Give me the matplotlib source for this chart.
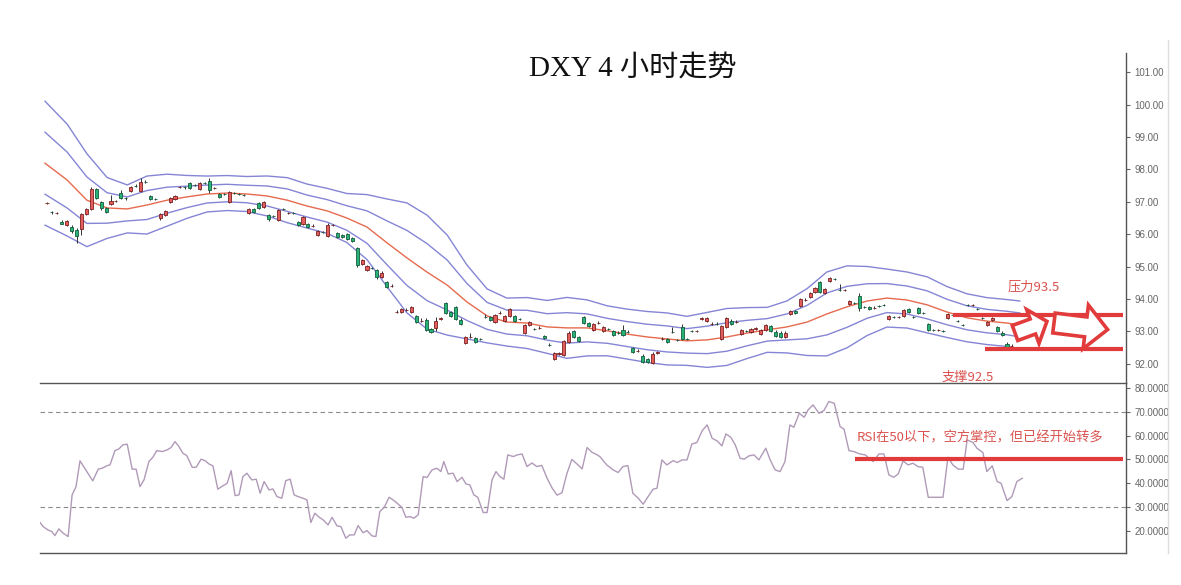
import math
import matplotlib
matplotlib.use("Agg")
import matplotlib.pyplot as plt
from matplotlib.patches import Rectangle, Polygon
from matplotlib.lines import Line2D
from matplotlib.ticker import FormatStrFormatter
from matplotlib.transforms import IdentityTransform

# ---------------- data ----------------
opens = [96.96, 96.69, 96.65, 96.38, 96.28, 96.22, 96.13, 96.16, 96.62, 96.78,
         97.39, 96.99, 96.81, 96.93, 97.02, 97.27, 97.12, 97.33, 97.49, 97.33,
         97.61, 97.18, 97.09, 96.50, 96.59, 96.99, 97.09, 97.45, 97.46, 97.58,
         97.52, 97.39, 97.58, 97.64, 97.42, 97.24, 97.24, 96.99, 97.27, 97.24,
         97.21, 96.65, 96.78, 96.96, 96.84, 96.59, 96.56, 96.44, 96.78, 96.65,
         96.65, 96.38, 96.32, 96.32, 96.25, 95.98, 96.07, 95.95, 96.28, 96.04,
         95.98, 96.01, 95.88, 95.58, 95.08, 94.90, 94.96, 94.90, 94.68, 94.53,
         94.40, 93.60, 93.60, 93.66, 93.60, 93.48, 93.32, 93.36, 93.08, 93.11,
         93.39, 93.88, 93.60, 93.76, 93.36, 92.65, 92.83, 92.80, 92.77, 93.45,
         93.45, 93.29, 93.57, 93.33, 93.48, 93.48, 93.39, 92.96, 93.20, 93.08,
         93.11, 92.86, 92.59, 92.15, 92.31, 92.28, 92.68, 93.02, 92.83, 93.45,
         93.26, 93.05, 93.26, 93.02, 93.08, 93.02, 92.96, 93.05, 92.99, 92.49,
         92.40, 92.25, 92.15, 92.03, 92.34, 92.77, 92.77, 92.99, 92.74, 93.14,
         92.77, 93.02, 93.01, 93.39, 93.33, 93.23, 93.24, 92.77, 93.14, 93.33,
         93.29, 92.92, 93.02, 92.99, 93.08, 92.92, 93.05, 93.17, 92.99, 92.96,
         92.83, 93.54, 93.63, 93.79, 93.97, 94.07, 94.22, 94.53, 94.19, 94.56,
         94.62, 94.28, 94.27, 93.85, 93.88, 94.10, 93.76, 93.76, 93.72, 93.79,
         93.82, 93.39, 93.45, 93.44, 93.48, 93.69, 93.45, 93.72, 93.57, 93.23,
         93.05, 93.04, 93.02, 93.42, 93.51, 93.32, 93.20, 93.82, 93.81, 93.69,
         93.42, 93.20, 93.36, 93.14, 92.96, 92.62, 92.55]
highs = [97.00, 96.73, 96.70, 96.45, 96.45, 96.27, 96.18, 96.66, 96.82, 97.47,
         97.43, 97.03, 96.85, 97.21, 97.07, 97.35, 97.16, 97.50, 97.55, 97.73,
         97.66, 97.22, 97.13, 96.66, 96.76, 97.15, 97.22, 97.50, 97.50, 97.62,
         97.56, 97.62, 97.62, 97.73, 97.47, 97.28, 97.28, 97.34, 97.31, 97.28,
         97.25, 96.82, 96.82, 97.00, 97.03, 96.63, 96.60, 96.79, 96.82, 96.70,
         96.69, 96.42, 96.57, 96.36, 96.30, 96.14, 96.11, 96.34, 96.33, 96.08,
         96.02, 96.05, 95.92, 95.62, 95.25, 95.06, 95.00, 94.94, 94.85, 94.57,
         94.45, 93.66, 93.73, 93.71, 93.80, 93.52, 93.40, 93.40, 93.12, 93.45,
         93.44, 93.92, 93.64, 93.80, 93.40, 92.87, 92.95, 92.84, 92.81, 93.55,
         93.49, 93.55, 93.62, 93.52, 93.73, 93.52, 93.43, 93.24, 93.33, 93.12,
         93.16, 92.90, 92.63, 92.38, 92.36, 92.75, 93.00, 93.06, 92.87, 93.49,
         93.30, 93.27, 93.31, 93.18, 93.12, 93.06, 93.00, 93.20, 93.03, 92.53,
         92.45, 92.29, 92.19, 92.36, 92.40, 92.82, 92.81, 93.15, 92.78, 93.22,
         92.81, 93.06, 93.06, 93.44, 93.46, 93.28, 93.28, 93.21, 93.46, 93.37,
         93.34, 93.09, 93.06, 93.12, 93.13, 93.09, 93.24, 93.21, 93.03, 93.00,
         93.00, 93.67, 93.67, 94.04, 94.02, 94.23, 94.38, 94.57, 94.35, 94.69,
         94.66, 94.45, 94.32, 93.98, 93.92, 94.20, 93.80, 93.80, 93.77, 93.83,
         93.86, 93.52, 93.49, 93.49, 93.70, 93.73, 93.49, 93.76, 93.61, 93.27,
         93.09, 93.09, 93.06, 93.58, 93.55, 93.36, 93.24, 93.86, 93.86, 93.73,
         93.46, 93.33, 93.46, 93.18, 93.00, 92.66, 92.60]
lows = [96.93, 96.62, 96.62, 96.30, 96.25, 96.05, 95.73, 95.98, 96.58, 96.74,
        97.08, 96.76, 96.64, 96.90, 96.98, 97.09, 97.07, 97.30, 97.45, 97.30,
        97.57, 97.05, 97.05, 96.45, 96.55, 96.96, 97.06, 97.42, 97.41, 97.38,
        97.48, 97.36, 97.54, 97.27, 97.39, 97.11, 97.20, 96.96, 97.23, 97.20,
        97.17, 96.62, 96.65, 96.77, 96.80, 96.40, 96.52, 96.40, 96.74, 96.62,
        96.61, 96.24, 96.29, 96.18, 96.22, 95.95, 96.03, 95.92, 96.25, 95.87,
        95.88, 95.82, 95.75, 95.00, 95.04, 94.87, 94.92, 94.62, 94.64, 94.33,
        94.37, 93.56, 93.57, 93.63, 93.57, 93.25, 93.28, 93.01, 92.95, 93.00,
        93.36, 93.53, 93.44, 93.35, 93.19, 92.62, 92.79, 92.64, 92.73, 93.41,
        93.32, 93.26, 93.54, 93.30, 93.45, 93.29, 93.35, 92.93, 93.17, 93.04,
        93.08, 92.76, 92.55, 92.12, 92.28, 92.25, 92.65, 92.79, 92.67, 93.22,
        93.13, 93.02, 93.23, 92.99, 93.04, 92.85, 92.92, 92.85, 92.95, 92.33,
        92.37, 92.02, 92.02, 92.00, 92.31, 92.74, 92.64, 92.95, 92.70, 92.73,
        92.73, 92.98, 92.98, 93.36, 93.30, 93.20, 93.20, 92.74, 93.11, 93.19,
        93.26, 92.89, 92.98, 92.96, 93.05, 92.89, 93.02, 92.98, 92.82, 92.79,
        92.80, 93.51, 93.53, 93.76, 93.94, 94.04, 94.19, 94.18, 94.16, 94.53,
        94.58, 94.24, 94.24, 93.82, 93.84, 93.62, 93.72, 93.65, 93.69, 93.75,
        93.78, 93.36, 93.41, 93.41, 93.45, 93.56, 93.41, 93.53, 93.53, 93.01,
        93.01, 93.01, 92.98, 93.39, 93.47, 93.28, 93.16, 93.78, 93.78, 93.65,
        93.38, 93.17, 93.33, 92.98, 92.85, 92.48, 92.52]
closes = [96.97, 96.68, 96.66, 96.32, 96.41, 96.10, 95.95, 96.62, 96.78, 97.39,
          97.12, 96.81, 96.69, 97.02, 97.03, 97.12, 97.11, 97.46, 97.48, 97.61,
          97.60, 97.09, 97.08, 96.62, 96.72, 97.12, 97.18, 97.46, 97.45, 97.42,
          97.51, 97.58, 97.57, 97.36, 97.43, 97.15, 97.23, 97.30, 97.26, 97.23,
          97.20, 96.78, 96.69, 96.81, 96.99, 96.47, 96.55, 96.75, 96.77, 96.66,
          96.64, 96.28, 96.53, 96.22, 96.26, 96.10, 96.06, 96.28, 96.29, 95.91,
          95.91, 95.85, 95.79, 95.05, 95.21, 95.02, 94.95, 94.68, 94.81, 94.37,
          94.41, 93.61, 93.69, 93.67, 93.76, 93.29, 93.33, 93.05, 92.99, 93.33,
          93.40, 93.57, 93.48, 93.39, 93.23, 92.83, 92.84, 92.68, 92.76, 93.44,
          93.36, 93.51, 93.58, 93.48, 93.69, 93.33, 93.38, 93.20, 93.29, 93.07,
          93.12, 92.80, 92.58, 92.34, 92.32, 92.71, 92.96, 92.83, 92.71, 93.26,
          93.17, 93.23, 93.27, 93.14, 93.07, 92.89, 92.95, 92.89, 92.98, 92.37,
          92.41, 92.06, 92.06, 92.31, 92.35, 92.78, 92.68, 92.98, 92.73, 92.77,
          92.76, 93.01, 93.02, 93.40, 93.42, 93.24, 93.23, 93.17, 93.42, 93.23,
          93.30, 93.05, 93.01, 93.08, 93.09, 93.05, 93.20, 93.02, 92.86, 92.83,
          92.96, 93.63, 93.57, 94.00, 93.98, 94.19, 94.34, 94.22, 94.31, 94.65,
          94.61, 94.27, 94.28, 93.94, 93.87, 93.73, 93.75, 93.69, 93.73, 93.78,
          93.81, 93.48, 93.44, 93.45, 93.66, 93.60, 93.44, 93.57, 93.56, 93.05,
          93.04, 93.05, 93.01, 93.54, 93.50, 93.31, 93.19, 93.81, 93.82, 93.68,
          93.41, 93.29, 93.42, 93.02, 92.89, 92.52, 92.56]

# Bollinger band (middle line and standard deviation read at sample bars)
band_t = [-0.4, 4.1, 8.1, 12.2, 16.3, 20.3, 24.4, 28.4, 32.5, 36.6,
          40.6, 44.7, 48.8, 52.8, 56.9, 60.9, 65.0, 69.1, 73.1, 77.2,
          81.3, 85.3, 89.4, 93.4, 97.5, 101.6, 105.6, 109.7, 113.8, 117.8,
          121.9, 125.9, 130.0, 134.1, 138.1, 142.2, 146.3, 150.3, 154.4, 158.4,
          162.5, 166.6, 170.6, 174.7, 178.8, 182.8, 186.9, 190.9, 195.0, 197.6]
band_mid = [98.19, 97.67, 97.05, 96.81, 96.78, 96.90, 97.05, 97.15, 97.24, 97.27,
            97.24, 97.18, 97.05, 96.87, 96.72, 96.50, 96.22, 95.73, 95.27, 94.83,
            94.43, 93.91, 93.48, 93.29, 93.26, 93.14, 93.11, 93.11, 93.02, 92.92,
            92.83, 92.77, 92.71, 92.74, 92.83, 92.95, 93.05, 93.14, 93.29, 93.54,
            93.76, 93.94, 94.03, 93.97, 93.82, 93.60, 93.42, 93.32, 93.26, 93.20]
band_sd = [0.956, 0.863, 0.717, 0.470, 0.370, 0.447, 0.401, 0.331, 0.277, 0.270,
           0.270, 0.308, 0.347, 0.339, 0.347, 0.378, 0.501, 0.678, 0.848, 0.879,
           0.771, 0.570, 0.416, 0.370, 0.393, 0.408, 0.470, 0.432, 0.385, 0.385,
           0.393, 0.401, 0.378, 0.424, 0.439, 0.393, 0.347, 0.401, 0.516, 0.647,
           0.632, 0.532, 0.447, 0.432, 0.432, 0.393, 0.370, 0.362, 0.362, 0.370]

# RSI line vertices (bar position, value)
rsi_t = [-1.4, -0.8, 0.2, 1.0, 1.6, 2.4, 3.3, 4.3, 5.1, 5.9, 6.7, 8.1, 9.3, 10.4,
         11.2, 12.2, 12.8, 13.8, 14.6, 15.4, 16.3, 17.3, 18.1, 18.9, 19.7, 20.7,
         21.5, 22.3, 23.4, 24.4, 25.2, 26.0, 26.8, 27.6, 28.4, 29.5, 30.3, 31.3,
         32.1, 32.9, 33.7, 34.7, 35.5, 36.6, 37.4, 38.2, 39.0, 39.8, 40.6, 41.6,
         42.5, 43.3, 44.1, 45.1, 45.9, 46.7, 47.7, 48.5, 49.4, 50.2, 51.0, 52.0,
         52.8, 53.6, 54.4, 55.3, 56.1, 57.1, 57.9, 58.9, 59.7, 60.7, 61.5, 62.4,
         63.2, 64.2, 65.0, 66.0, 66.8, 67.6, 68.5, 69.5, 70.3, 71.3, 72.1, 72.9,
         73.7, 74.5, 75.4, 76.4, 77.2, 78.2, 79.2, 80.0, 80.6, 81.5, 82.5, 83.3,
         84.3, 85.1, 85.9, 86.7, 87.5, 88.6, 89.4, 90.4, 91.2, 92.0, 92.8, 93.6,
         94.7, 95.5, 96.5, 97.5, 98.5, 99.5, 100.5, 101.6, 102.6, 103.6, 104.6,
         105.6, 106.6, 107.7, 108.7, 109.7, 110.7, 111.7, 112.3, 113.7, 115.0,
         116.0, 117.0, 118.0, 119.0, 120.1, 121.1, 122.1, 123.1, 123.9, 124.9,
         125.9, 127.2, 128.0, 129.0, 130.0, 131.0, 132.0, 133.1, 134.1, 135.1,
         136.1, 137.1, 137.9, 138.9, 139.8, 140.8, 141.6, 142.6, 143.6, 144.6,
         146.0, 146.9, 147.9, 148.9, 149.9, 150.9, 151.7, 152.8, 153.8, 154.6,
         155.6, 156.8, 157.8, 158.8, 159.9, 161.1, 161.9, 162.9, 163.9, 165.1,
         166.2, 167.8, 169.0, 170.0, 171.0, 172.0, 172.9, 173.9, 174.9, 175.9,
         176.9, 177.9, 179.0, 180.0, 181.0, 182.0, 183.0, 184.0, 185.1, 186.1,
         186.9, 188.1, 188.9, 190.1, 190.9, 192.0, 193.0, 193.8, 195.0, 196.0,
         197.0, 198.1]
rsi_v = [23.5, 21.8, 20.4, 19.7, 18.0, 20.8, 19.0, 17.6, 35.1, 38.6, 49.4, 44.9, 41.0, 45.9,
         46.3, 47.4, 47.7, 53.7, 54.4, 56.1, 56.4, 45.9, 45.9, 38.6, 41.4, 49.1,
         50.9, 53.7, 53.3, 54.0, 55.0, 57.5, 55.4, 52.6, 51.6, 46.7, 46.7, 50.1,
         49.5, 48.1, 47.3, 37.5, 38.6, 40.0, 45.3, 34.8, 35.1, 42.8, 44.2, 41.4,
         41.7, 35.8, 40.7, 37.2, 37.6, 34.4, 33.7, 41.1, 41.7, 35.1, 34.4, 33.7,
         33.0, 23.5, 27.4, 25.7, 24.6, 22.5, 25.7, 22.1, 21.8, 16.9, 18.3, 18.3,
         22.2, 19.2, 20.1, 17.9, 17.6, 28.1, 29.9, 34.1, 33.0, 31.3, 29.8, 25.7,
         26.0, 25.3, 26.7, 42.8, 42.4, 45.6, 46.3, 44.9, 49.1, 43.9, 44.2, 40.7,
         42.5, 39.7, 39.3, 35.1, 34.1, 27.7, 27.7, 41.4, 44.9, 42.8, 41.7, 51.9,
         51.2, 51.9, 52.3, 47.0, 48.5, 47.0, 47.5, 42.0, 38.0, 35.0, 36.0,
         44.0, 50.0, 48.0, 46.0, 55.0, 53.0, 52.0, 51.2, 47.7, 45.6,
         44.5, 47.0, 47.4, 35.8, 33.7, 31.2, 34.4, 37.5, 37.9, 49.8,
         47.7, 49.5, 48.7, 49.8, 49.8, 56.5, 57.1, 62.1, 64.5, 58.9,
         57.8, 55.7, 60.7, 59.3, 56.1, 50.5, 50.1, 51.5, 51.9, 49.8,
         54.7, 49.8, 45.6, 44.9, 49.1, 64.5, 63.5, 69.4, 67.7, 70.8,
         72.9, 69.4, 70.5, 74.3, 73.6, 63.8, 62.7, 53.7, 53.3, 52.3,
         51.9, 49.1, 52.3, 52.3, 43.5, 42.5, 43.9, 49.4, 47.7, 48.4,
         47.0, 46.7, 34.1, 34.1, 34.1, 34.1, 50.9, 47.7, 45.9, 45.9,
         58.2, 57.1, 54.7, 52.9, 44.9, 47.3, 40.7, 40.0, 32.7, 34.4,
         40.7, 42.1]

price_ticks = [92, 93, 94, 95, 96, 97, 98, 99, 100, 101]
rsi_ticks = [20, 30, 40, 50, 60, 70, 80]
resistance = 93.5
support = 92.45
rsi_mid = 50

# ---------------- figure ----------------
W, H = 1181, 585
fig = plt.figure(figsize=(W / 100, H / 100), dpi=100)
fig.patch.set_facecolor("white")

left, right = 40 / W, 1126 / W
ax = fig.add_axes([left, 1 - 383 / H, right - left, (383 - 53) / H])
ax2 = fig.add_axes([left, 1 - 553 / H, right - left, (553 - 383) / H], sharex=ax)

XMIN, XMAX = -1.42, 219.17
ax.set_xlim(XMIN, XMAX)
ax.set_ylim(91.41, 101.59)
ax2.set_ylim(10.7, 82.1)

RED_F, RED_E = "#e35d5d", "#7a2020"
GRN_F, GRN_E = "#27b377", "#145c3c"
BAND = "#8585d6"
MID = "#e66a4e"

# candlesticks
bw = 0.62
for i, (o, h, l, c) in enumerate(zip(opens, highs, lows, closes)):
    up = c > o
    ax.vlines(i, l, h, color="#333333", lw=0.7, zorder=2)
    lo = min(o, c)
    ht = max(abs(c - o), 0.012)
    ax.add_patch(Rectangle((i - bw / 2, lo), bw, ht,
                           facecolor=RED_F if up else GRN_F,
                           edgecolor=RED_E if up else GRN_E,
                           lw=0.6, zorder=3))

# Bollinger bands
for k in (2, 1, -1, -2):
    ax.plot(band_t, [m + k * s for m, s in zip(band_mid, band_sd)],
            color=BAND, lw=1.0, zorder=1)
ax.plot(band_t, band_mid, color=MID, lw=1.0, zorder=1)

# support / resistance
LINE_RED = "#e23b3b"
TXT_RED = "#d9534f"
ax.plot([184.0, 218.6], [resistance, resistance], color=LINE_RED, lw=3, zorder=4,
        solid_capstyle="butt")
ax.plot([190.5, 218.6], [support, support], color=LINE_RED, lw=3, zorder=4,
        solid_capstyle="butt")
ax.text(195.2, 94.37, "压力93.5", color=TXT_RED, fontsize=9.5,
        family=["Noto Sans CJK SC", "DejaVu Sans"], ha="left", va="center")
ax.text(181.8, 91.58, "支撑92.5", color=TXT_RED, fontsize=9.5,
        family=["Noto Sans CJK SC", "DejaVu Sans"], ha="left", va="center")


# hollow block arrows (drawn in output-pixel space, y measured from the top)
def block_arrow(x0, y0, length, body_h, head_h, head_len, angle_deg):
    pts = [(0, -body_h), (length - head_len, -body_h), (length - head_len, -head_h),
           (length, 0), (length - head_len, head_h), (length - head_len, body_h),
           (0, body_h)]
    a = math.radians(angle_deg)
    out = []
    for px, py in pts:
        rx = px * math.cos(a) - py * math.sin(a)
        ry = px * math.sin(a) + py * math.cos(a)
        out.append((x0 + rx, H - (y0 - ry)))
    return out


for spec in ((1015, 333, 34, 8, 18, 15, 20), (1054, 323, 54, 10, 22, 22, -7)):
    fig.add_artist(Polygon(block_arrow(*spec), closed=True, facecolor="white",
                           edgecolor=LINE_RED, lw=2.6, joinstyle="miter",
                           transform=IdentityTransform(), zorder=6))

# RSI
ax2.plot(rsi_t, rsi_v, color="#b09ab8", lw=1.0, zorder=2)
for lvl in (70, 30):
    ax2.axhline(lvl, color="#8a8a8a", lw=0.8, ls=(0, (4, 3)), zorder=1)
ax2.plot([164.1, 218.6], [rsi_mid, rsi_mid], color=LINE_RED, lw=3, zorder=4,
         solid_capstyle="butt")
ax2.text(164.5, 59.0, "RSI在50以下，空方掌控，但已经开始转多", color=TXT_RED,
         fontsize=9.5, family=["Noto Sans CJK SC", "DejaVu Sans"],
         ha="left", va="center")

# axes styling
for a, ticks, fmt in ((ax, price_ticks, "%.2f"), (ax2, rsi_ticks, "%.4f")):
    a.set_facecolor("none")
    a.yaxis.tick_right()
    a.set_yticks(ticks)
    a.yaxis.set_major_formatter(FormatStrFormatter(fmt))
    a.tick_params(axis="y", direction="out", length=3, width=0.8, pad=3,
                  labelsize=7, colors="#666666", labelcolor="#666666")
    a.tick_params(axis="x", bottom=False, labelbottom=False, top=False)
    for lab in a.get_yticklabels():
        lab.set_family("Liberation Sans")
    for s in ("left", "top"):
        a.spines[s].set_visible(False)
    a.spines["right"].set_color("#555555")
    a.spines["right"].set_linewidth(1.0)
    a.spines["bottom"].set_color("#555555")
    a.spines["bottom"].set_linewidth(1.0)

# title
fig.text(633 / W, 1 - 68 / H, "DXY 4 小时走势", ha="center", va="center",
         fontsize=21, color="#111111",
         family=["Liberation Serif", "Noto Sans CJK SC"])

# light frame line on the right
fig.add_artist(Line2D([1168 / W, 1168 / W], [1 - 553 / H, 1 - 40 / H],
                      color="#dddddd", lw=1.0))

fig.savefig("out.png", dpi=100, facecolor="white")
